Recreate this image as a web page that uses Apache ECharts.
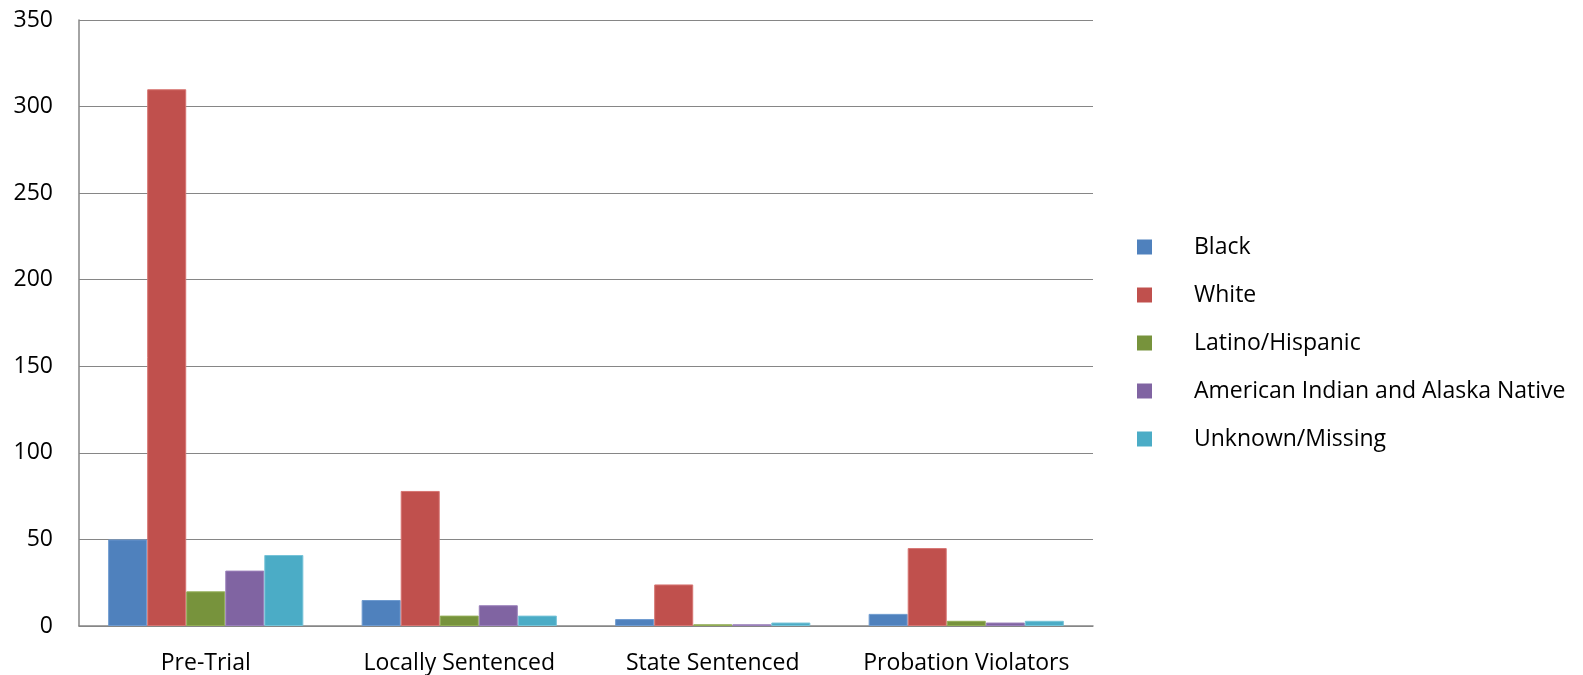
<!DOCTYPE html>
<html>
<head>
<meta charset="utf-8">
<script src="https://cdn.jsdelivr.net/npm/echarts@6/dist/echarts.min.js"></script>
<style>html,body{margin:0;padding:0;background:#fff;}#c{width:1583px;height:675px;}</style>
</head>
<body>
<div id="c"></div>
<script>
const categories = ['Pre-Trial', 'Locally Sentenced', 'State Sentenced', 'Probation Violators'];
const black = [50, 15, 4, 7];
const white = [310, 78, 24, 45];
const latino = [20, 6, 1, 3];
const amInd = [32, 12, 1, 2];
const unknown = [41, 6, 2, 3];
const yTicks = { min: 0, max: 350, interval: 50 };

const names = ['Black', 'White', 'Latino/Hispanic', 'American Indian and Alaska Native', 'Unknown/Missing'];
const colors = ['#4F81BD', '#C0504D', '#77933C', '#8064A2', '#4BACC6'];
const borders = ['#6f9bd0', '#d77572', '#92ae55', '#9a80bb', '#76c3d8'];
const values = [black, white, latino, amInd, unknown];

const chart = echarts.init(document.getElementById('c'), null, { renderer: 'canvas' });
const font = '"Open Sans", sans-serif';
chart.setOption({
  animation: false,
  grid: { left: 79, right: 490, top: 20, bottom: 48, containLabel: false },
  legend: {
    orient: 'vertical',
    left: 1132,
    top: 230,
    padding: 5,
    itemWidth: 15,
    itemHeight: 15,
    itemGap: 24,
    icon: 'rect',
    data: names,
    itemStyle: { borderWidth: 0 },
    textStyle: { fontFamily: font, fontSize: 23, color: '#000', lineHeight: 24, padding: [0, 0, 0, 37] }
  },
  xAxis: {
    type: 'category',
    data: categories,
    axisLine: { lineStyle: { color: '#868686', width: 1.5 } },
    axisTick: { show: false },
    axisLabel: { fontFamily: font, fontSize: 23, color: '#000', margin: 26, interval: 0 }
  },
  yAxis: {
    type: 'value',
    min: yTicks.min, max: yTicks.max, interval: yTicks.interval,
    axisLine: { show: true, lineStyle: { color: '#868686', width: 1.5 } },
    axisTick: { show: false },
    splitLine: { lineStyle: { color: '#868686', width: 1 } },
    axisLabel: { fontFamily: font, fontSize: 23, color: '#000', margin: 26 }
  },
  series: values.map((v, i) => ({
    name: names[i],
    type: 'bar',
    data: v,
    barGap: '0%',
    barCategoryGap: '23%',
    itemStyle: { color: colors[i], borderColor: borders[i], borderWidth: 1 }
  }))
});
</script>
</body>
</html>
